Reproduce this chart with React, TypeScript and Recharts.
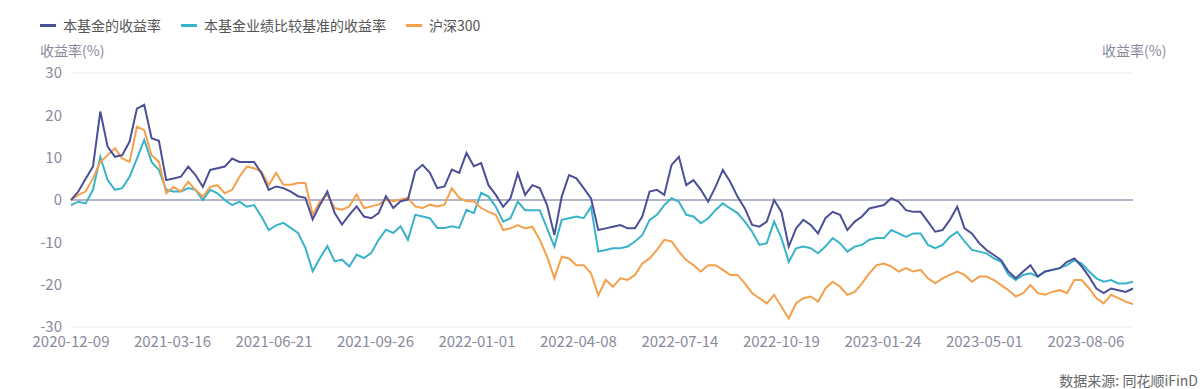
import {
  LineChart, Line, XAxis, YAxis, CartesianGrid, ReferenceLine,
} from "recharts";

const FONT = "'Noto Sans CJK SC', 'Noto Sans', sans-serif";
const NAVY = "#4b5096";
const CYAN = "#38b3c9";
const ORANGE = "#f5a04c";
const TICK = "#8a8a9c";

// weekly samples from 2020-12-09 (146 points, last 2023-09-20)
const START = "2020-12-09";
const STEP_DAYS = 7;

const fund = [
  0, 2, 5, 7.9, 20.9, 12.6, 10.2, 10.6, 13.8, 21.6, 22.5, 14.6, 14, 4.7, 5.1, 5.5, 7.9, 5.9, 3.1, 7.1,
  7.5, 7.9, 9.8, 9, 9, 9, 6.3, 2.4,
  3.2, 2.8, 2, 0.9, 0.5, -4.6, -1.1, 2, -3.1, -5.8, -3.5, -1.5, -3.9, -4.3, -3.1, 0.9, -1.9, -0.3,
  0.1, 6.8, 8.3, 6.4, 2.8, 3.2, 7.2, 6.4, 11.1, 8, 8.7,
  3.5, 1.2, -1.6, 0.4, 6.3, 1.2, 3.5, 2.8, -1.2, -8.3, 0.8, 5.9, 5.1, 2.8, 0.4, -7.1, -6.7, -6.3,
  -5.9, -6.7, -6.7, -3.9, 2, 2.4, 1.2, 8.3, 10.2, 3.5, 4.7,
  2.4, -0.4, 3.1, 7.1, 4.3, 0.8, -2, -5.9, -6.3, -5.1, 0, -2.8, -11, -6.7, -4.7, -5.9, -7.9, -4.3,
  -2.8, -3.5, -7.1, -5.1, -3.9, -2, -1.6, -1.2, 0.4, -0.4, -2.4,
  -2.8, -2.8, -5.1, -7.5, -7.1, -4.7, -1.6, -6.7, -7.9, -10.2, -11.8, -13, -14.2, -16.9, -18.5,
  -16.9, -15.4, -18.1, -16.9, -16.5, -16.1, -14.6, -13.8, -15.7, -18.1, -20.9, -22, -20.9, -21.3,
  -21.7, -20.9,
];

const benchmark = [
  -1.2, -0.4, -0.8, 2.4, 10.2, 4.7, 2.4, 2.8, 5.5, 9.8, 14.2, 9, 7.1, 2.4, 2, 2, 2.8, 2.4, 0, 2.4,
  1.6, 0, -1.2, -0.4, -1.6, -1.2, -3.9, -7.1,
  -6, -5.4, -6.6, -7.8, -11.3, -16.8, -13.7, -10.9, -14.5, -14.1, -15.7, -12.9, -13.7, -12.5, -9.4,
  -7, -7.8, -6.2, -9.4, -3.5, -3.9, -4.3, -6.6, -6.6, -6.2, -6.6, -2.3, -3.1, 1.7,
  0.8, -1.6, -5.1, -4.3, -0.4, -2.4, -2.4, -2.4, -6.7, -11, -4.7, -4.3, -3.9, -4.3, -1.6, -12.2,
  -11.8, -11.4, -11.4, -11, -9.8, -8.3, -4.7, -3.5, -1.2, 0.4, -0.4, -3.5, -3.9,
  -5.5, -4.3, -2.4, -0.8, -2, -3.1, -5.1, -7.5, -10.6, -10.2, -5.1, -9, -14.6, -11.4, -11, -11.4,
  -12.6, -11, -9, -10.2, -12.2, -11, -10.6, -9.4, -9, -9, -7.1, -7.9, -8.7,
  -7.9, -7.9, -10.6, -11.4, -10.6, -8.7, -7.5, -9.8, -11.8, -12.2, -12.6, -13.8, -14.6, -17.7,
  -18.9, -17.7, -17.3, -18.1, -16.9, -16.5, -16.1, -15.4, -14.2, -15, -16.9, -18.5, -19.3, -18.9,
  -19.7, -19.7, -19.3,
];

const hs300 = [
  0, 1.2, 2, 5.1, 9, 10.6, 12.2, 9.8, 9, 17.3, 16.5, 10.6, 9, 1.6, 3.1, 2, 4.3, 2.4, 0.8, 3.1,
  3.5, 1.6, 2.4, 5.5, 7.9, 7.5, 6.7, 3.5,
  6.4, 3.6, 3.6, 4, 4, -3.5, -0.3, 1.3, -1.9, -2.3, -1.5, 1.3, -1.9, -1.5, -1.1, 0.1, -0.3, 0.1,
  0.5, -1.5, -1.9, -1.1, -1.5, -1.1, 2.8, 0.5, -0.3, -0.3, -1.9,
  -2.8, -3.5, -7.1, -6.7, -5.9, -6.7, -6.3, -9.4, -13.4, -18.5, -13.4, -13.8, -15.4, -15.4, -17.3,
  -22.5, -18.9, -20.5, -18.5, -18.9, -17.7, -15, -13.8, -11.8, -9.4, -9.8, -12.2, -14.2, -15.4,
  -16.9, -15.4, -15.4, -16.5, -17.7, -17.7, -19.7, -22, -23.2, -24.4, -22.4, -25.2, -28, -24.4,
  -23.2, -22.8, -24, -20.9, -19.3, -20.5, -22.4, -21.7, -19.7, -17.3, -15.4, -15, -15.7, -16.9,
  -16.1,
  -16.9, -16.5, -18.5, -19.7, -18.5, -17.7, -16.9, -17.7, -19.3, -18.1, -18.1, -18.9, -20.1,
  -21.3, -22.8, -22, -20.1, -22, -22.4, -21.7, -21.3, -22, -18.9, -18.9, -20.9, -23.2, -24.4,
  -22.4, -23.2, -24, -24.6,
];

const tickLabels = [
  "2020-12-09", "2021-03-16", "2021-06-21", "2021-09-26", "2022-01-01", "2022-04-08",
  "2022-07-14", "2022-10-19", "2023-01-24", "2023-05-01", "2023-08-06",
];
const yTicks = [-30, -20, -10, 0, 10, 20, 30];

const DAY = 86400000;
const t0 = Date.parse(START);
const data = fund.map((v, i) => ({
  t: t0 + i * STEP_DAYS * DAY,
  fund: v,
  benchmark: benchmark[i],
  hs300: hs300[i],
}));
const xTicks = tickLabels.map((d) => Date.parse(d));
const tEnd = data[data.length - 1].t;

const legend = [
  { name: "本基金的收益率", color: NAVY, x: 40 },
  { name: "本基金业绩比较基准的收益率", color: CYAN, x: 181 },
  { name: "沪深300", color: ORANGE, x: 406 },
];

const tickStyle = { fontSize: 15, fill: TICK, fontFamily: FONT };

export default function App() {
  return (
    <div style={{ position: "absolute", left: 0, top: 0, width: 1203, height: 389, background: "#fff", fontFamily: FONT }}>
      {legend.map((l) => (
        <div key={l.name} style={{ position: "absolute", left: l.x, top: 15, height: 20, display: "flex", alignItems: "center" }}>
          <div style={{ width: 16, height: 3, background: l.color, marginRight: 7 }} />
          <span style={{ fontSize: 14, color: "#555", whiteSpace: "nowrap" }}>{l.name}</span>
        </div>
      ))}
      <div style={{ position: "absolute", left: 40, top: 40, fontSize: 14, color: TICK, lineHeight: "20px" }}>收益率(%)</div>
      <div style={{ position: "absolute", left: 1102, top: 40, fontSize: 14, color: TICK, lineHeight: "20px" }}>收益率(%)</div>

      <LineChart width={1203} height={389} data={data} margin={{ top: 73, right: 0, left: 0, bottom: 32 }}>
        <CartesianGrid horizontal vertical={false} stroke="#e8e8f2" />
        <XAxis
          dataKey="t" type="number" domain={[t0, tEnd]} ticks={xTicks}
          tickFormatter={(v) => new Date(v).toISOString().slice(0, 10)}
          tick={tickStyle} axisLine={false} tickLine={false} tickSize={0} tickMargin={9} height={30}
          interval={0}
        />
        <YAxis
          yAxisId="l" orientation="left" domain={[-30, 30]} ticks={yTicks} width={71}
          tick={tickStyle} axisLine={false} tickLine={false} tickSize={0} tickMargin={9}
        />
        <YAxis
          yAxisId="r" orientation="right" domain={[-30, 30]} ticks={yTicks} width={70}
          tick={{ ...tickStyle, textAnchor: "start" }} axisLine={false} tickLine={false} tickSize={0} tickMargin={8}
        />
        <ReferenceLine yAxisId="l" y={0} stroke="#6a6a94" strokeWidth={1} />
        <Line yAxisId="l" type="linear" dataKey="benchmark" stroke={CYAN} strokeWidth={2} dot={false} isAnimationActive={false} />
        <Line yAxisId="l" type="linear" dataKey="hs300" stroke={ORANGE} strokeWidth={2} dot={false} isAnimationActive={false} />
        <Line yAxisId="l" type="linear" dataKey="fund" stroke={NAVY} strokeWidth={2} dot={false} isAnimationActive={false} />
      </LineChart>

      <div style={{ position: "absolute", right: 5, top: 370, fontSize: 14, color: "#666", lineHeight: "20px" }}>数据来源: 同花顺iFinD</div>
    </div>
  );
}
